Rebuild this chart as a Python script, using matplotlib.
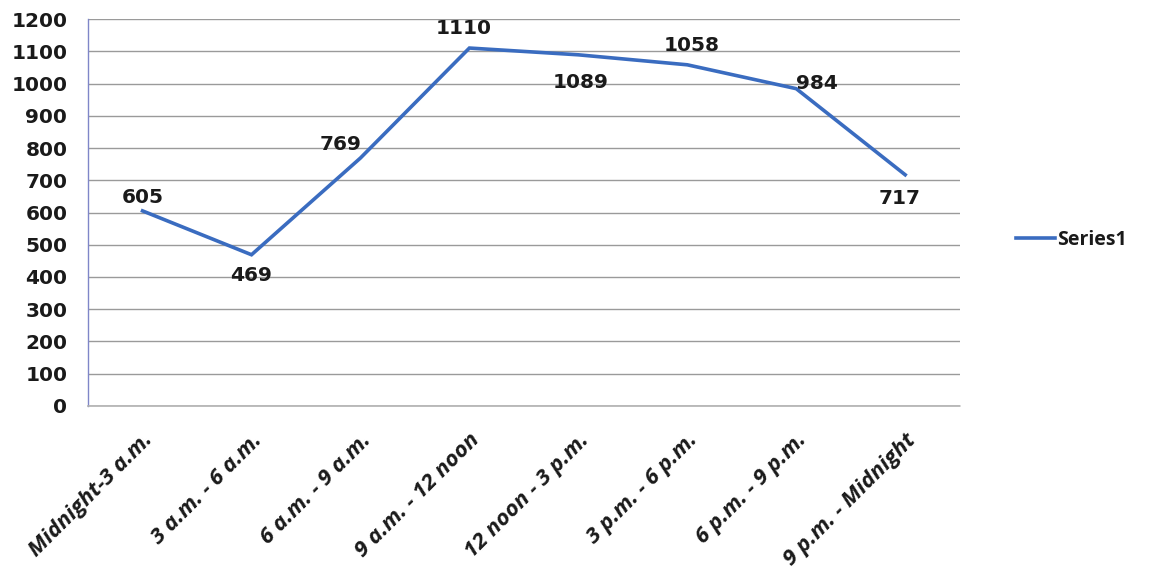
import matplotlib
matplotlib.use('Agg')
import matplotlib.pyplot as plt

# time slots and counts
slots = ['Midnight-3 a.m.', '3 a.m. - 6 a.m.', '6 a.m. - 9 a.m.', '9 a.m. - 12 noon',
         '12 noon - 3 p.m.', '3 p.m. - 6 p.m.', '6 p.m. - 9 p.m.', '9 p.m. - Midnight']
counts = [605, 469, 769, 1110, 1089, 1058, 984, 717]

# label offsets in points (dx, dy) and alignment for each value
label_offsets = [(0, 10), (0, -15), (-14, 10), (-4, 14), (2, -20), (3, 14), (0, 4), (-4, -17)]
label_align = ['center', 'center', 'center', 'center', 'center', 'center', 'left', 'center']

num_font = {'family': 'DejaVu Sans', 'weight': 'bold', 'size': 14.5}

plt.rcParams['font.family'] = ['Open Sans', 'DejaVu Sans']

fig = plt.figure(figsize=(11.59, 5.78), dpi=100)
ax = fig.add_axes([0.076, 0.2976, 0.752, 0.6695])

x = list(range(len(slots)))
line, = ax.plot(x, counts, color='#3a6cc0', linewidth=2.6, label='Series1',
                solid_joinstyle='miter')

for i, v in enumerate(counts):
    dx, dy = label_offsets[i]
    ax.annotate(str(v), (i, v), xytext=(dx, dy), textcoords='offset points',
                ha=label_align[i], va='center', color='#1a1a1a', **num_font)

ax.set_xlim(-0.5, len(slots) - 0.5)
ax.set_ylim(0, 1200)
ax.set_yticks(range(0, 1201, 100))
ax.set_yticklabels([str(t) for t in range(0, 1201, 100)], color='#1a1a1a', **num_font)
ax.set_xticks(x)
ax.set_xticklabels(slots, rotation=45, ha='right', rotation_mode='anchor',
                   fontsize=16, fontweight='bold', fontstyle='italic', color='#1a1a1a')
ax.tick_params(axis='both', length=0)
ax.tick_params(axis='y', pad=15)
ax.tick_params(axis='x', pad=17)

ax.grid(axis='y', color='#9a9a9a', linewidth=1.0)
ax.set_axisbelow(True)
for side in ['top', 'right']:
    ax.spines[side].set_visible(False)
ax.spines['left'].set_color('#7f86c8')
ax.spines['left'].set_linewidth(1.0)
ax.spines['bottom'].set_color('#b0b0b0')
ax.spines['bottom'].set_linestyle((0, (1, 1)))
ax.spines['bottom'].set_linewidth(1.2)

leg = ax.legend(loc='center left', bbox_to_anchor=(1.045, 0.43), frameon=False,
                prop={'size': 14, 'weight': 'bold'}, handlelength=2.0, handletextpad=0.1)
for t in leg.get_texts():
    t.set_color('#1a1a1a')

fig.savefig('out.png', dpi=100)
